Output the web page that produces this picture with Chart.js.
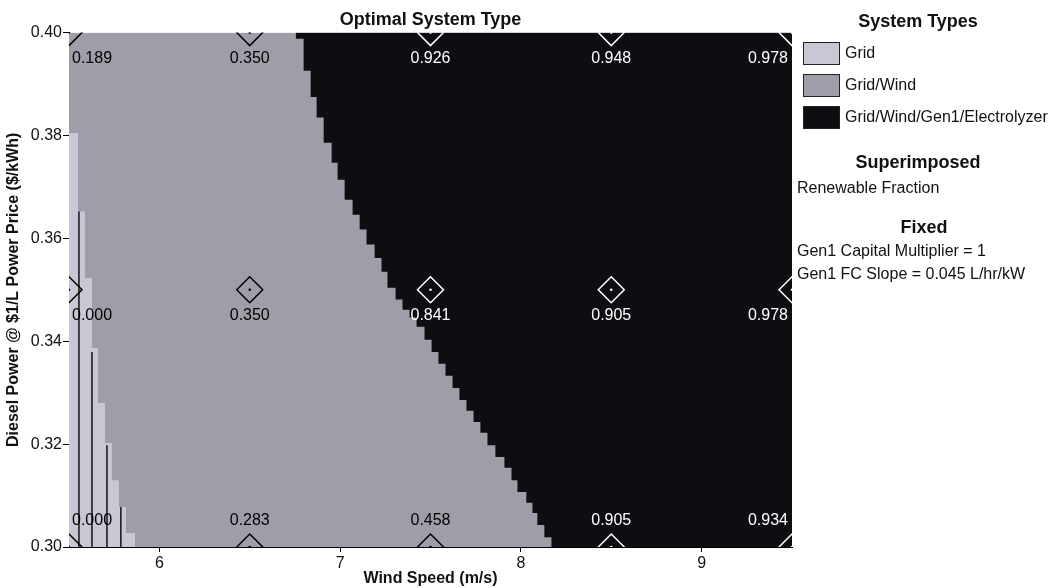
<!DOCTYPE html>
<html>
<head>
<meta charset="utf-8">
<title>Optimal System Type</title>
<script src="https://cdn.jsdelivr.net/npm/chart.js@4.4.1/dist/chart.umd.min.js"></script>
<style>
  html, body { margin: 0; padding: 0; background: #fff; }
  #wrap { position: relative; width: 1053px; height: 588px; }
</style>
</head>
<body>
<div id="wrap"><canvas id="chart"></canvas></div>
<script>
// sensitivity grid: wind speed (m/s) x diesel price ($/kWh)
const windSpeeds = [5.5, 6.5, 7.5, 8.5, 9.5];
const dieselPrices = [0.30, 0.35, 0.40];

// superimposed renewable fraction, one row per diesel price
const renewable030 = [0.000, 0.283, 0.458, 0.905, 0.934];
const renewable035 = [0.000, 0.350, 0.841, 0.905, 0.978];
const renewable040 = [0.189, 0.350, 0.926, 0.948, 0.978];

const xTicks = [6, 7, 8, 9];
const yTicks = [0.30, 0.32, 0.34, 0.36, 0.38, 0.40];

// "Grid" strip on the left: column start (wind) and top of the strip (price)
const gridEdgeWind  = [5.5, 5.550, 5.588, 5.627, 5.660, 5.699, 5.737, 5.776, 5.815, 5.865];
const gridEdgePrice = [0.3805, 0.3652, 0.3523, 0.3387, 0.3280, 0.3202, 0.3130, 0.3078, 0.3027, 0.30];

// "Grid/Wind/Gen1/Electrolyzer" area: step edge (wind) and bottom of each step (price)
const electroEdgeWind = [6.754, 6.798, 6.837, 6.870, 6.909, 6.953, 6.986, 7.025, 7.069, 7.108,
  7.146, 7.191, 7.229, 7.262, 7.307, 7.345, 7.384, 7.423, 7.467, 7.506,
  7.544, 7.583, 7.622, 7.660, 7.699, 7.738, 7.776, 7.815, 7.859, 7.909,
  7.948, 7.981, 8.030, 8.064, 8.091, 8.130, 8.169, 9.5];
const electroEdgePrice = [0.3988, 0.3926, 0.3875, 0.3835, 0.3786, 0.3747, 0.3714, 0.3675, 0.3646, 0.3617,
  0.3588, 0.3562, 0.3535, 0.3504, 0.3481, 0.3461, 0.3446, 0.3428, 0.3403, 0.3379,
  0.3356, 0.3333, 0.3309, 0.3286, 0.3265, 0.3243, 0.3222, 0.3198, 0.3175, 0.3154,
  0.3130, 0.3107, 0.3086, 0.3066, 0.3043, 0.3019, 0.3000, 0.30];

// renewable fraction contour lines inside the Grid strip
const contourWind = [5.555, 5.627, 5.710, 5.787];
const contourTop  = [0.3652, 0.3379, 0.3198, 0.3078];

const systemTypes = ['Grid', 'Grid/Wind', 'Grid/Wind/Gen1/Electrolyzer'];
const superimposed = ['Renewable Fraction'];
const fixedNotes = ['Gen1 Capital Multiplier = 1', 'Gen1 FC Slope = 0.045 L/hr/kW'];

const LIGHT = '#c8c8d5';
const GRAY = '#9e9ea8';
const DARK = '#0e0e12';
const FONT = '"Liberation Sans", Arial, sans-serif';
Chart.defaults.font.family = FONT;
Chart.defaults.color = '#111';

const pts = (xs, ys) => xs.map((x, i) => ({x: x, y: ys[i]}));

function inDarkArea(w, p) {
  let i = electroEdgePrice.findIndex(v => v <= p);
  if (i < 0) i = electroEdgePrice.length - 1;
  return w >= electroEdgeWind[i];
}

const gridPoints = [];
dieselPrices.forEach(p => windSpeeds.forEach(w => gridPoints.push({x: w, y: p})));
const markColors = gridPoints.map(pt => inDarkArea(pt.x, pt.y) ? '#fff' : '#000');

const contourData = [];
contourWind.forEach((w, i) => {
  contourData.push({x: w, y: contourTop[i]}, {x: w, y: dieselPrices[0]}, {x: w, y: null});
});

const valueLabels = {
  id: 'valueLabels',
  afterDatasetsDraw(chart) {
    const {ctx, scales: {x, y}} = chart;
    const rows = [renewable030, renewable035, renewable040];
    ctx.save();
    ctx.font = '16px ' + FONT;
    ctx.textBaseline = 'middle';
    dieselPrices.forEach((p, r) => {
      rows[r].forEach((v, c) => {
        const w = windSpeeds[c];
        let px = x.getPixelForValue(w);
        const py = y.getPixelForValue(p) + (r === 0 ? -26 : 26);
        ctx.textAlign = 'center';
        if (c === 0) { ctx.textAlign = 'left'; px += 3; }
        if (c === windSpeeds.length - 1) { ctx.textAlign = 'right'; px -= 4; }
        ctx.fillStyle = inDarkArea(w, p) ? '#fff' : '#000';
        ctx.fillText(v.toFixed(3), px, py);
      });
    });
    ctx.restore();
  }
};

const sideLegend = {
  id: 'sideLegend',
  afterDraw(chart) {
    const ctx = chart.ctx;
    const left = chart.chartArea.right;
    const mid = left + 126;
    ctx.save();
    ctx.textBaseline = 'middle';
    ctx.fillStyle = '#111';
    ctx.textAlign = 'center';
    ctx.font = 'bold 18px ' + FONT;
    ctx.fillText('System Types', mid, 22);

    systemTypes.forEach((name, i) => {
      const ds = chart.data.datasets.find(d => d.label === name);
      const top = 42 + i * 32;
      ctx.fillStyle = ds.backgroundColor;
      ctx.fillRect(left + 11, top, 37, 23);
      ctx.strokeStyle = '#222';
      ctx.lineWidth = 1;
      ctx.strokeRect(left + 11.5, top + 0.5, 36, 22);
      ctx.fillStyle = '#111';
      ctx.textAlign = 'left';
      ctx.font = '16px ' + FONT;
      ctx.fillText(name, left + 53, top + 12);
    });

    ctx.textAlign = 'center';
    ctx.font = 'bold 18px ' + FONT;
    ctx.fillText('Superimposed', mid, 163);
    ctx.fillText('Fixed', mid + 6, 228);

    ctx.textAlign = 'left';
    ctx.font = '16px ' + FONT;
    superimposed.forEach((t, i) => ctx.fillText(t, left + 5, 189 + i * 23));
    fixedNotes.forEach((t, i) => ctx.fillText(t, left + 5, 252 + i * 23));
    ctx.restore();
  }
};

new Chart(document.getElementById('chart'), {
  type: 'line',
  data: {
    datasets: [
      {
        label: 'Grid/Wind',
        data: [{x: windSpeeds[0], y: dieselPrices[0]}, {x: windSpeeds[windSpeeds.length - 1], y: dieselPrices[0]}],
        fill: 'end', backgroundColor: GRAY, borderColor: 'transparent', borderWidth: 0,
        pointRadius: 0, order: 5
      },
      {
        label: 'Grid/Wind/Gen1/Electrolyzer',
        data: pts(electroEdgeWind, electroEdgePrice),
        stepped: true, fill: 'end', backgroundColor: DARK, borderColor: 'transparent', borderWidth: 0,
        pointRadius: 0, order: 4
      },
      {
        label: 'Grid',
        data: pts(gridEdgeWind, gridEdgePrice),
        stepped: true, fill: 'start', backgroundColor: LIGHT, borderColor: 'transparent', borderWidth: 0,
        pointRadius: 0, order: 3
      },
      {
        label: 'contours',
        data: contourData,
        borderColor: '#111', borderWidth: 1.5, pointRadius: 0, fill: false, order: 2
      },
      {
        label: 'Renewable Fraction',
        data: gridPoints,
        showLine: false, pointStyle: 'rectRot', pointRadius: 13,
        pointBorderColor: markColors, pointBackgroundColor: 'transparent', pointBorderWidth: 1.5,
        clip: 0, order: 1
      },
      {
        label: 'centres',
        data: gridPoints,
        showLine: false, pointStyle: 'circle', pointRadius: 1.3,
        pointBorderColor: markColors, pointBackgroundColor: markColors, pointBorderWidth: 0,
        clip: 0, order: 0
      }
    ]
  },
  options: {
    responsive: true,
    maintainAspectRatio: false,
    animation: false,
    events: [],
    layout: {padding: {left: 0, right: 261, top: 0, bottom: 0}},
    plugins: {
      legend: {display: false},
      tooltip: {enabled: false},
      title: {
        display: true, text: 'Optimal System Type', fullSize: false,
        font: {size: 18, weight: 'bold'}, color: '#111', padding: {top: 9, bottom: 2}
      }
    },
    scales: {
      x: {
        type: 'linear', min: windSpeeds[0], max: windSpeeds[windSpeeds.length - 1],
        afterBuildTicks: s => { s.ticks = xTicks.map(v => ({value: v})); },
        afterFit: s => { s.height = 41; },
        ticks: {callback: v => String(v), font: {size: 16}, color: '#111', padding: 2, maxRotation: 0},
        grid: {drawOnChartArea: false, tickLength: 5, color: '#000'},
        border: {color: '#000'},
        title: {display: true, text: 'Wind Speed (m/s)', font: {size: 16, weight: 'bold'}, color: '#111', padding: {top: 0, bottom: 0}}
      },
      y: {
        type: 'linear', min: dieselPrices[0], max: dieselPrices[dieselPrices.length - 1],
        afterBuildTicks: s => { s.ticks = yTicks.map(v => ({value: v})); },
        afterFit: s => { s.width = 69; },
        ticks: {callback: v => v.toFixed(2), font: {size: 16}, color: '#111', padding: 1},
        grid: {drawOnChartArea: false, tickLength: 6, color: '#000'},
        border: {color: '#000'},
        title: {display: true, text: 'Diesel Power @ $1/L Power Price ($/kWh)', font: {size: 16, weight: 'bold'}, color: '#111', padding: {top: 4, bottom: 0}}
      }
    }
  },
  plugins: [valueLabels, sideLegend]
});
</script>
</body>
</html>
